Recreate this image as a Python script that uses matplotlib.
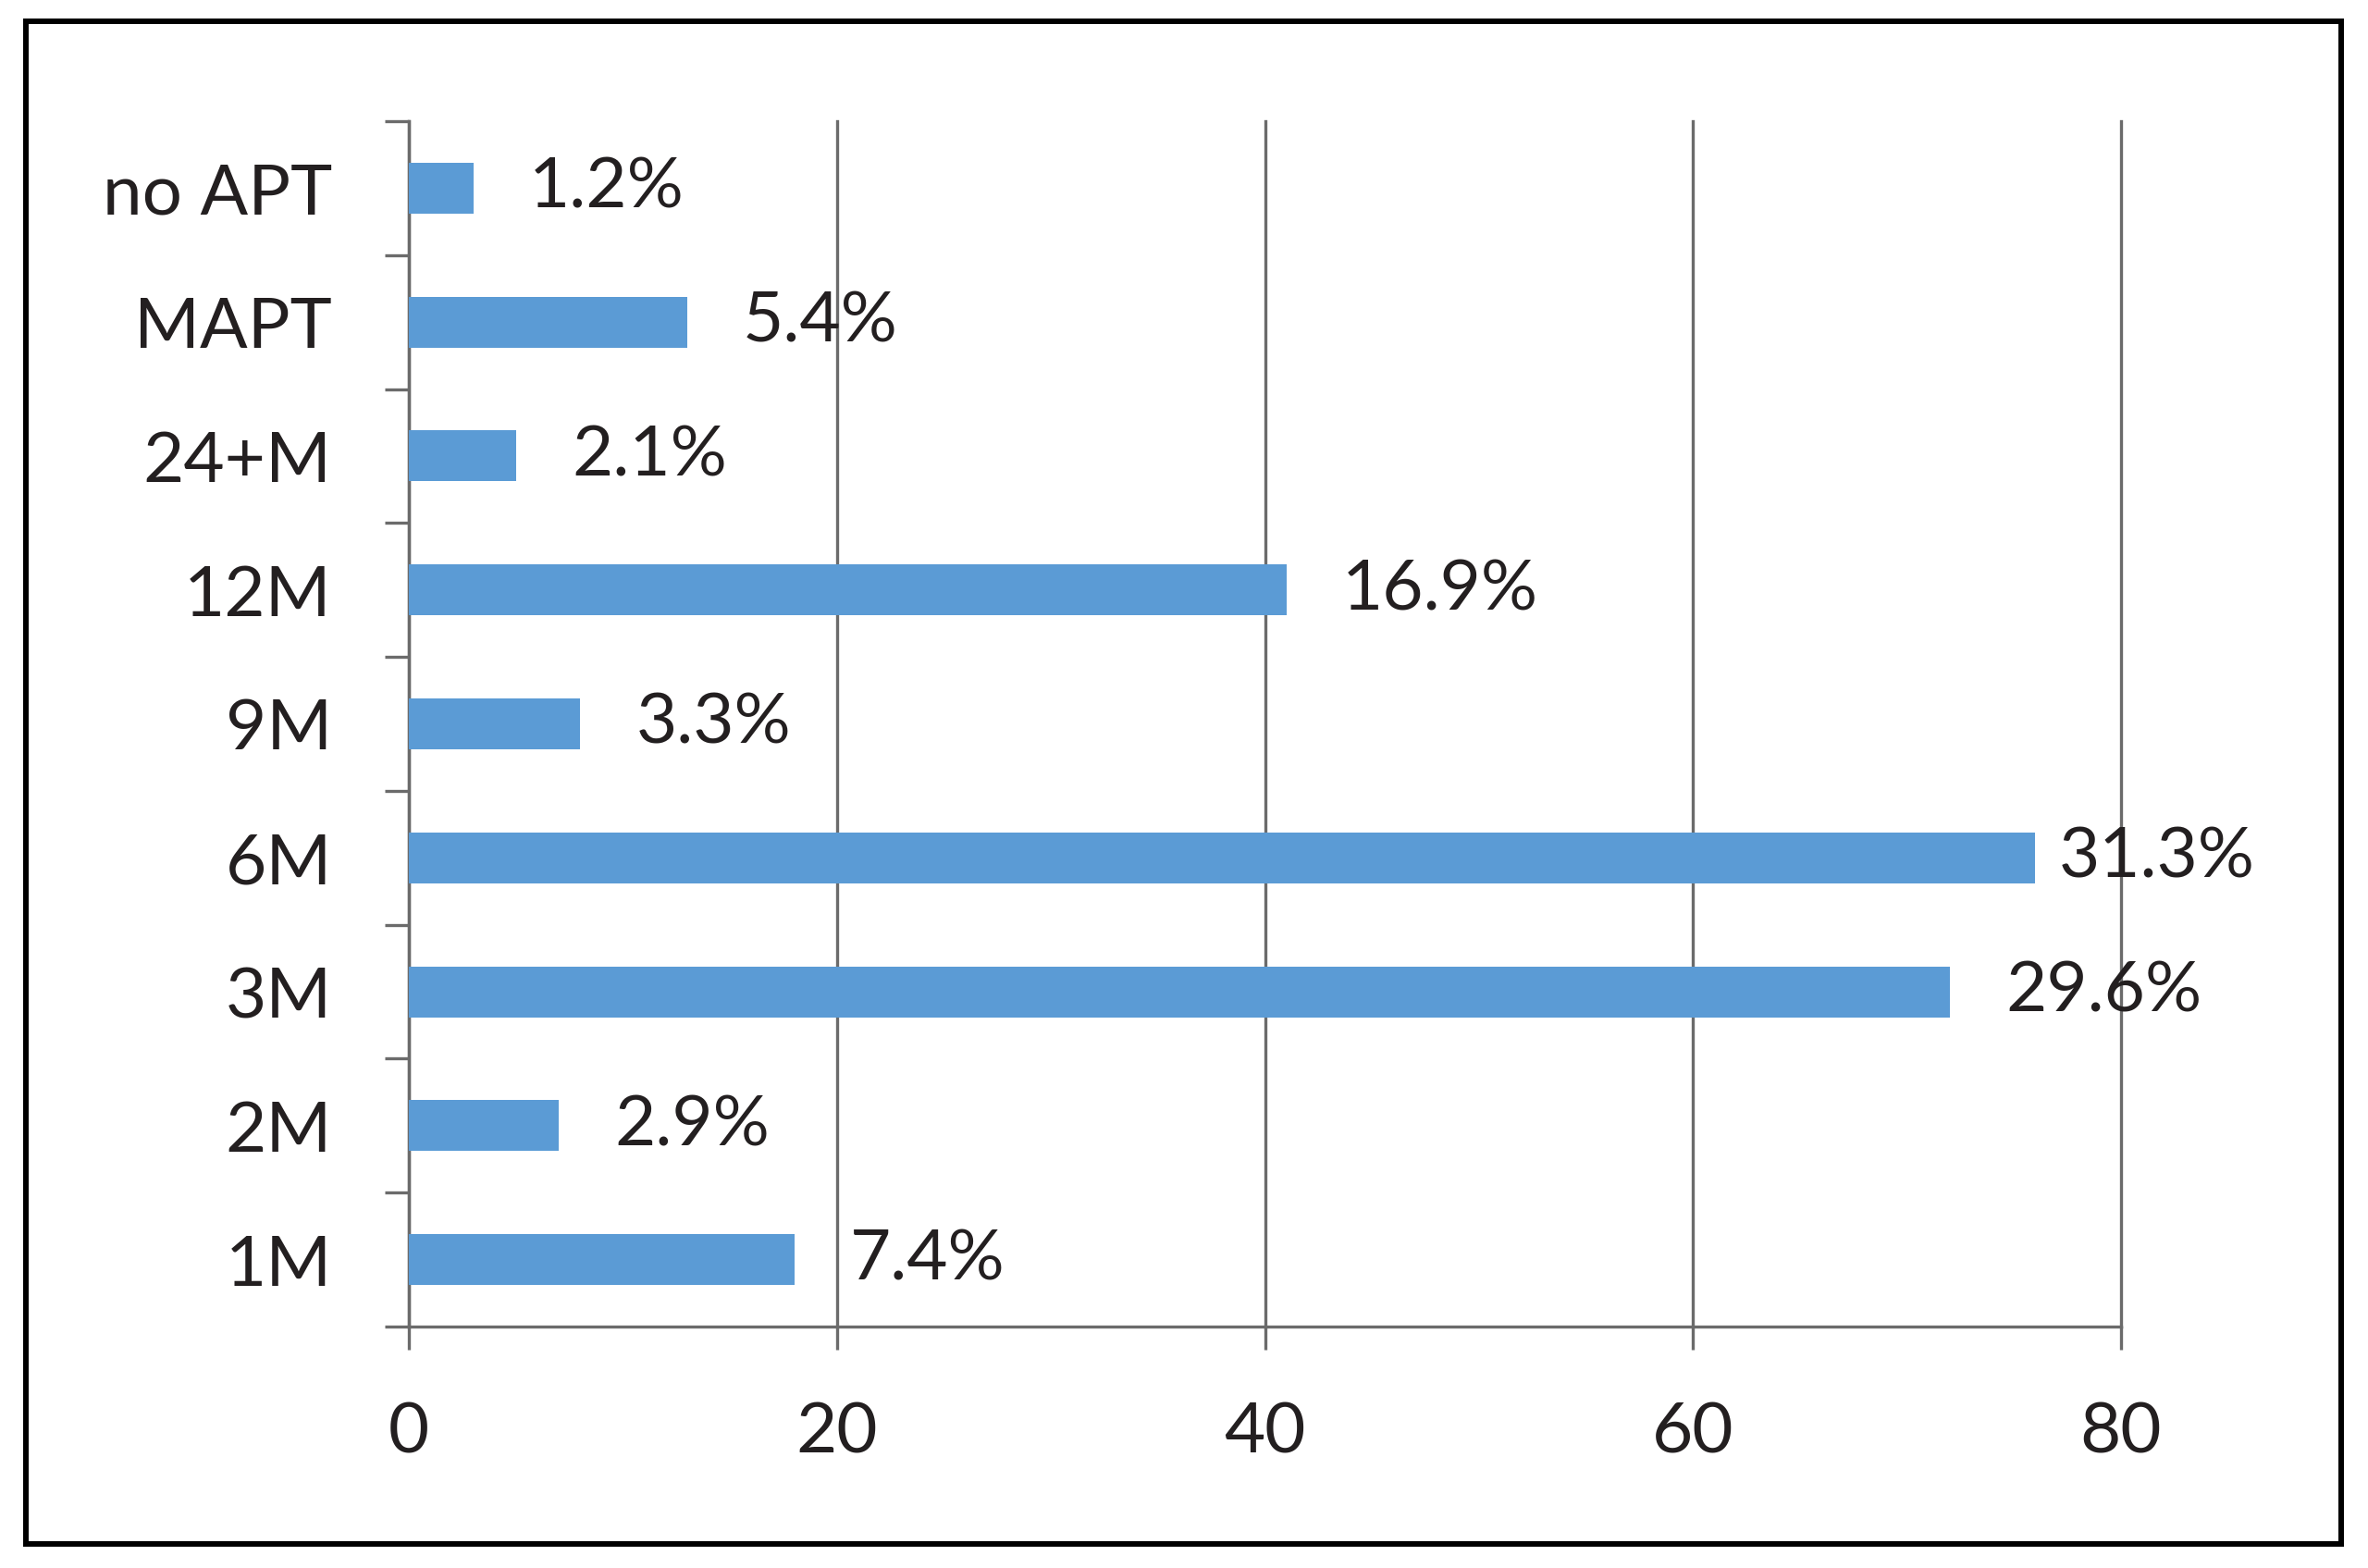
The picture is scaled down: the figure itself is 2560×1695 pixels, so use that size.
import numpy as np
import matplotlib
matplotlib.use("Agg")
import matplotlib.pyplot as plt
from matplotlib.patches import Rectangle
from matplotlib.ticker import FixedLocator

# Data (bottom to top)
categories = ["1M", "2M", "3M", "6M", "9M", "12M", "24+M", "MAPT", "no APT"]
counts = [18, 7, 72, 76, 8, 41, 5, 13, 3]
pct_labels = ["7.4%", "2.9%", "29.6%", "31.3%", "3.3%", "16.9%", "2.1%", "5.4%", "1.2%"]
x_ticks = [0, 20, 40, 60, 80]

BAR = "#5b9bd5"
AXIS = "#6b6b6b"
TEXT = "#231f20"

plt.rcParams["font.family"] = ["Lato", "DejaVu Sans"]

fig = plt.figure(figsize=(25.6, 16.95), dpi=100)
ax = fig.add_axes([0.1727, 0.1540, 0.7230, 0.7687])

y = np.arange(len(categories))
ax.barh(y, counts, height=0.38, color=BAR, zorder=3)

ax.set_xlim(0, 80)
ax.set_ylim(-0.5, len(categories) - 0.5)

# gridlines
ax.xaxis.set_major_locator(FixedLocator(x_ticks))
ax.grid(axis="x", color=AXIS, linewidth=2.4, zorder=1)
ax.set_axisbelow(True)
for gl in ax.get_xgridlines():
    gl.set_clip_on(False)

# category boundaries as tick marks
ax.set_yticks(y)
ax.set_yticklabels(categories)
ax.yaxis.set_minor_locator(FixedLocator(np.arange(-0.5, len(categories), 1.0)))
ax.tick_params(axis="y", which="major", length=0, pad=60, labelsize=55, labelcolor=TEXT)
ax.tick_params(axis="y", which="minor", length=19, width=2.4, color=AXIS, direction="out")
ax.tick_params(axis="x", which="major", length=18, width=2.4, color=AXIS, pad=40,
               labelsize=55, labelcolor=TEXT)

for side in ["top", "right"]:
    ax.spines[side].set_visible(False)
for side in ["left", "bottom"]:
    ax.spines[side].set_color(AXIS)
    ax.spines[side].set_linewidth(2.4)

# value labels
for yi, v, lab in zip(y, counts, pct_labels):
    off = 1.1 if v == max(counts) else 2.6
    ax.text(v + off, yi, lab, va="center", ha="left", fontsize=55, color=TEXT, zorder=4)

# outer frame
fig.patches.append(Rectangle((0.0109, 0.0153), 0.9777, 0.9711, transform=fig.transFigure,
                             fill=False, edgecolor="black", linewidth=4.3))

fig.savefig("out.png", dpi=100, facecolor="white")
